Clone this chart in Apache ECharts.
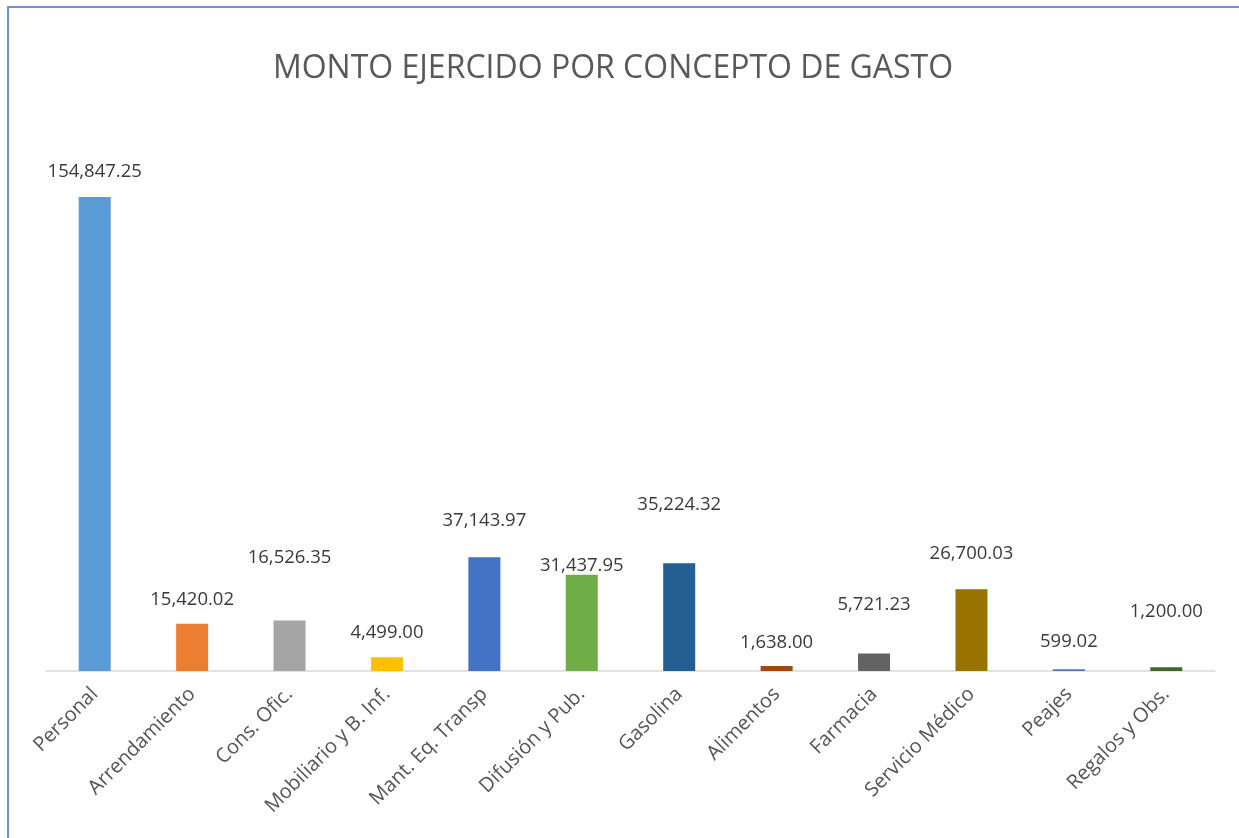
<!DOCTYPE html>
<html>
<head>
<meta charset="utf-8">
<script src="https://cdn.jsdelivr.net/npm/echarts@6/dist/echarts.min.js"></script>
<style>
  html, body { margin: 0; padding: 0; background: #fff; }
  #frame { position: absolute; left: 7px; top: 6px; width: 1232px; height: 832px;
           border-left: 2px solid #7292cc; border-top: 2px solid #7292cc; }
  #chart { position: absolute; left: 0; top: 0; width: 1239px; height: 838px; }
</style>
</head>
<body>
<div id="frame"></div>
<div id="chart"></div>
<script>
// datos
var categorias = ['Personal', 'Arrendamiento', 'Cons. Ofic.', 'Mobiliario y B. Inf.', 'Mant. Eq. Transp',
    'Difusión y Pub.', 'Gasolina', 'Alimentos', 'Farmacia', 'Servicio Médico', 'Peajes', 'Regalos y Obs.'];
var montos = [154847.25, 15420.02, 16526.35, 4499.00, 37143.97, 31437.95, 35224.32, 1638.00, 5721.23, 26700.03, 599.02, 1200.00];

// estilo
var colores = ['#5b9bd5', '#ed7d31', '#a5a5a5', '#ffc000', '#4472c4', '#70ad47',
    '#255e91', '#9e480e', '#636363', '#997300', '#5673b4', '#43682b'];
var separacion = [16, 15, 53, 15, 27, 0, 49, 14, 39, 26, 18, 46];

var fmt = function (v) {
    return v.toLocaleString('en-US', {minimumFractionDigits: 2, maximumFractionDigits: 2});
};

echarts.init(document.getElementById('chart')).setOption({
    animation: false,
    textStyle: {fontFamily: 'Open Sans'},
    title: {
        text: 'MONTO EJERCIDO POR CONCEPTO DE GASTO',
        left: 608,
        top: 48,
        textAlign: 'center',
        textStyle: {fontFamily: 'Open Sans', fontSize: 32, fontWeight: 'normal', color: '#595959'}
    },
    grid: {left: 46, right: 24, top: 120, bottom: 167},
    xAxis: {
        type: 'category',
        data: categorias,
        axisLine: {lineStyle: {color: '#d9d9d9', width: 1.5}},
        axisTick: {show: false},
        axisLabel: {rotate: 45, margin: 20, fontSize: 20, color: '#555555', interval: 0}
    },
    yAxis: {
        type: 'value',
        min: 0,
        max: 180000,
        show: false,
        splitLine: {show: false}
    },
    series: [{
        type: 'bar',
        barWidth: 32,
        data: montos.map(function (v, i) {
            return {
                value: v,
                itemStyle: {color: colores[i]},
                label: {distance: separacion[i]}
            };
        }),
        label: {
            show: true,
            position: 'top',
            fontSize: 18.5,
            color: '#3a3a3a',
            formatter: function (p) { return fmt(p.value); }
        }
    }]
});
</script>
</body>
</html>
